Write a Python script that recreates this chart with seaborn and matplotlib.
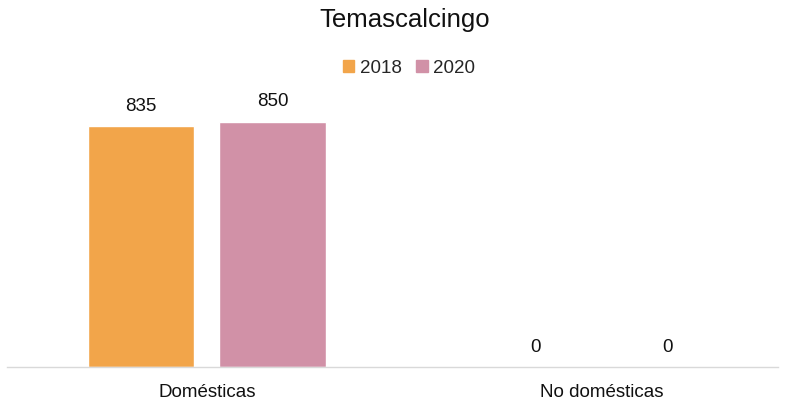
import numpy as np
import pandas as pd
import matplotlib.pyplot as plt
import seaborn as sns

# Datos del gráfico
categorias = ['Domésticas', 'No domésticas']
anios = ['2018', '2020']
valores_2018 = [835, 0]
valores_2020 = [850, 0]
colores = ['#F2A54A', '#D191A7']

df = pd.DataFrame({
    'categoria': categorias * 2,
    'anio': [anios[0]] * 2 + [anios[1]] * 2,
    'valor': valores_2018 + valores_2020,
})

sns.set_style('white')
plt.rcParams['font.family'] = ['Liberation Sans', 'DejaVu Sans']

fig = plt.figure(figsize=(7.85, 4.01), dpi=100)
ax = fig.add_axes([0.009, 0.085, 0.982, 0.72])

sns.barplot(data=df, x='categoria', y='valor', hue='anio', palette=colores,
            saturation=1, width=0.668, gap=0.19, ax=ax, legend=False)

for cont in ax.containers:
    ax.bar_label(cont, fmt='%d', padding=8, fontsize=13.5, color='#111111')

ax.set_xlim(-0.506, 1.446)
ax.set_ylim(0, 1000)
ax.set_xlabel('')
ax.set_ylabel('')
ax.set_yticks([])
ax.tick_params(axis='x', length=0, labelsize=13.5, pad=12, colors='#111111')
for s in ['top', 'left', 'right']:
    ax.spines[s].set_visible(False)
ax.spines['bottom'].set_color('#d9d9d9')
ax.spines['bottom'].set_linewidth(1)

fig.text(0.516, 0.95, 'Temascalcingo', ha='center', va='center', fontsize=18.5, color='#111111')

handles = [plt.Rectangle((0, 0), 1, 1, color=c) for c in colores]
fig.legend(handles, anios, loc='center', bbox_to_anchor=(0.521, 0.83), ncol=2,
           frameon=False, fontsize=13.5, handlelength=0.6, handleheight=0.6,
           handletextpad=0.3, columnspacing=0.8)

plt.savefig('out.png', dpi=100)
